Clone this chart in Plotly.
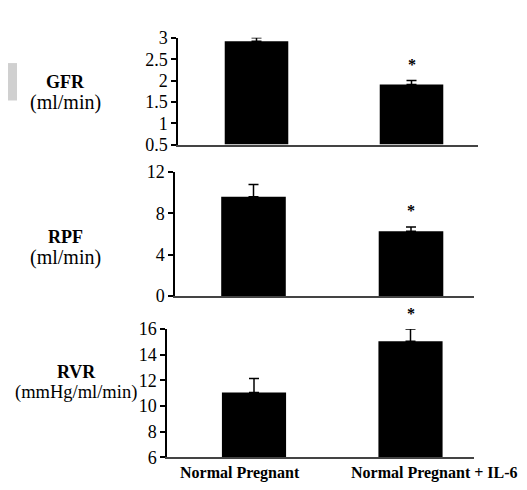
import plotly.graph_objects as go

W, H = 527, 490

groups = ["Normal Pregnant", "Normal Pregnant + IL-6"]
xpos = [0, 1]

gfr = [2.92, 1.91]
gfr_err = [0.08, 0.09]
rpf = [9.62, 6.28]
rpf_err = [1.18, 0.42]
rvr = [11.05, 15.05]
rvr_err = [1.1, 0.95]

gfr_ticks = [0.5, 1, 1.5, 2, 2.5, 3]
gfr_ticktext = ["0.5", "1", "1.5", "2", "2.5", "3"]
rpf_ticks = [0, 4, 8, 12]
rvr_ticks = [6, 8, 10, 12, 14, 16]

significant = [False, True]

FONT = "Liberation Serif, Times New Roman, serif"

panels = [
    dict(vals=gfr, err=gfr_err, name="GFR", unit="(ml/min)", yrange=[0.5, 3],
         ticks=gfr_ticks, ticktext=gfr_ticktext, usize=20,
         xpx=(170, 470), ypx=(20.7, 132), label_y=(67, 88), label_x=57),
    dict(vals=rpf, err=rpf_err, name="RPF", unit="(ml/min)", yrange=[0, 12],
         ticks=rpf_ticks, ticktext=[str(t) for t in rpf_ticks], usize=20,
         xpx=(167, 466), ypx=(160.7, 290), label_y=(228, 250), label_x=57),
    dict(vals=rvr, err=rvr_err, name="RVR", unit="(mmHg/ml/min)", yrange=[6, 16],
         ticks=rvr_ticks, ticktext=[str(t) for t in rvr_ticks], usize=18.5,
         xpx=(159, 466), ypx=(324.3, 458), label_y=(369, 390), label_x=68),
]

# bar centre pixel positions (approx) for x-range computation per panel
bar_centres = [(248.5, 403.5), (245.5, 403.0), (246.0, 402.5)]

fig = go.Figure()
annotations = []
layout = {}

for i, p in enumerate(panels, start=1):
    xa = "x" if i == 1 else f"x{i}"
    ya = "y" if i == 1 else f"y{i}"
    xkey = "xaxis" if i == 1 else f"xaxis{i}"
    ykey = "yaxis" if i == 1 else f"yaxis{i}"

    fig.add_trace(go.Bar(
        x=xpos, y=[v - p["yrange"][0] for v in p["vals"]], base=p["yrange"][0],
        width=0.41, marker=dict(color="black", line=dict(width=0)),
        error_y=dict(type="data", array=p["err"], arrayminus=[0, 0], symmetric=False,
                     color="black", thickness=1.5, width=5),
        xaxis=xa, yaxis=ya, showlegend=False, hoverinfo="skip",
    ))

    c0, c1 = bar_centres[i - 1]
    sp = c1 - c0
    x0px, x1px = p["xpx"]
    xr = [-(c0 - x0px) / sp, 1 + (x1px - c1) / sp]
    layout[xkey] = dict(
        domain=[x0px / W, x1px / W], range=xr, anchor=ya,
        showline=True, linecolor="#444", linewidth=1.5,
        showticklabels=False, ticks="", showgrid=False, zeroline=False, fixedrange=True,
    )
    y0px, y1px = p["ypx"]
    layout[ykey] = dict(
        domain=[1 - y1px / H, 1 - y0px / H], range=p["yrange"], anchor=xa,
        showline=True, linecolor="black", linewidth=1.5,
        ticks="outside", ticklen=5, tickwidth=1.5, tickcolor="black",
        tickvals=p["ticks"], ticktext=p["ticktext"],
        tickfont=dict(family=FONT, size=18, color="black"),
        showgrid=False, zeroline=False, fixedrange=True,
    )

    # side labels
    annotations.append(dict(
        text="<b>" + p["name"] + "</b>", x=p["label_x"] / W, y=1 - p["label_y"][0] / H,
        xref="paper", yref="paper", showarrow=False, xanchor="center", yanchor="middle",
        font=dict(family=FONT, size=18, color="black"),
    ))
    annotations.append(dict(
        text=p["unit"], x=p["label_x"] / W, y=1 - p["label_y"][1] / H,
        xref="paper", yref="paper", showarrow=False, xanchor="center", yanchor="middle",
        font=dict(family=FONT, size=p["usize"], color="black"),
    ))

    # significance stars
    for j, sig in enumerate(significant):
        if sig:
            annotations.append(dict(
                text="<b>*</b>", x=xpos[j], y=p["vals"][j] + p["err"][j], xref=xa, yref=ya,
                showarrow=False, xanchor="center", yanchor="middle", yshift=16,
                font=dict(family=FONT, size=16, color="black"),
            ))

# group labels under the bottom panel
label_shift = [-14, 24]
for j, g in enumerate(groups):
    annotations.append(dict(
        text="<b>" + g + "</b>", x=xpos[j], y=6, xref="x3", yref="y3",
        showarrow=False, xanchor="center", yanchor="middle", yshift=-16, xshift=label_shift[j],
        font=dict(family=FONT, size=16, color="black"),
    ))

fig.update_layout(
    width=W, height=H,
    margin=dict(l=0, r=0, t=0, b=0),
    paper_bgcolor="white", plot_bgcolor="white",
    annotations=annotations,
    shapes=[dict(type="rect", xref="paper", yref="paper", x0=0, x1=9 / W,
                 y0=1 - 86 / H, y1=1 - 47 / H, fillcolor="#d0d0d0", line=dict(width=0),
                 layer="below")],
    **layout,
)

fig.write_html("out.html")
